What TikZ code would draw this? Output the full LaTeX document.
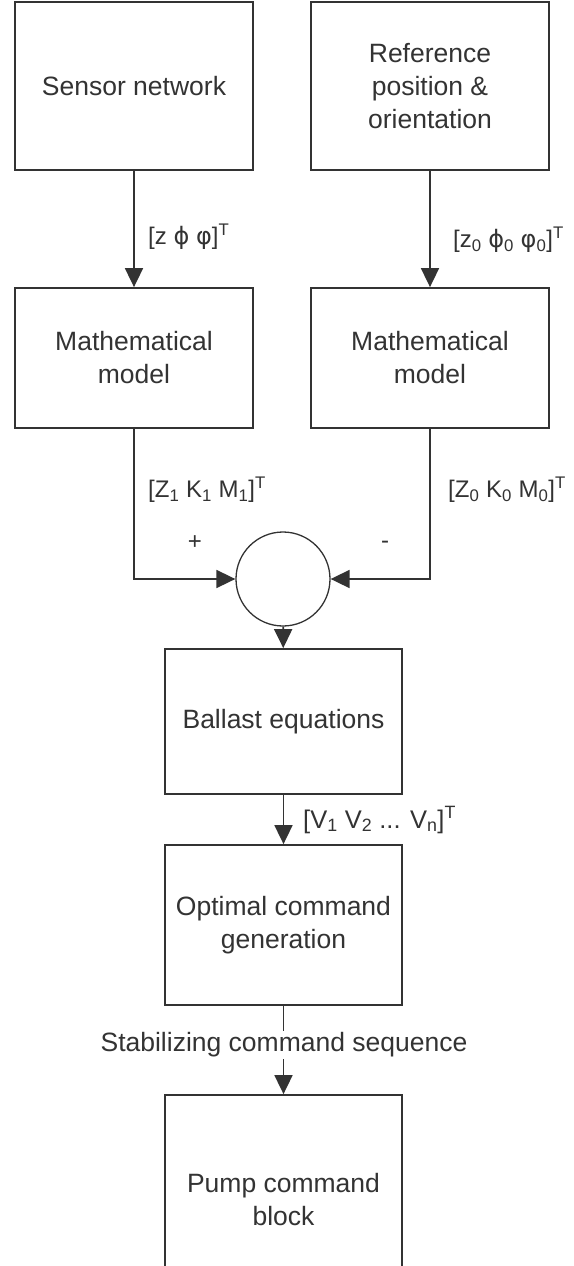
\documentclass[tikz,border=0pt]{standalone}
\usepackage{fontspec}
\setmainfont{Liberation Sans}
\newfontfamily\dv{DejaVu Sans}
\usetikzlibrary{arrows.meta}
\definecolor{ink}{HTML}{333333}
\begin{document}
\begin{tikzpicture}[x=1pt,y=-1pt,
  box/.style={draw=ink, line width=1.8pt, minimum width=238pt, text=ink,
    font=\fontsize{26.5}{33}\selectfont, align=center, inner sep=0pt},
  lbl/.style={text=ink, font=\fontsize{24}{30}\selectfont, inner sep=0pt},
  arr/.style={draw=ink, line width=1.8pt, -{Triangle[length=19pt,width=18pt]}}]
\useasboundingbox (0,0) rectangle (573,1266);
\clip (0,0) rectangle (573,1266);
\fill[white] (0,0) rectangle (573,1266);
\node[box, minimum height=168pt] (sn) at (134,86) {Sensor network};
\node[box, minimum height=168pt] (ref) at (430,86) {Reference\\position \&\\orientation};
\node[box, minimum height=140pt] (mm1) at (134,358) {Mathematical\\model};
\node[box, minimum height=140pt] (mm2) at (430,358) {Mathematical\\model};
\node[draw=ink, circle, line width=1.3pt, minimum size=94pt, inner sep=0pt] (sum) at (283,579) {};
\node[box, minimum width=237pt, minimum height=145pt] (be) at (283.5,721.5) {Ballast equations};
\node[box, minimum width=237pt, minimum height=160pt] (oc) at (283.5,925) {Optimal command\\generation};
\node[box, minimum width=237pt, minimum height=210pt] (pc) at (283.5,1200) {Pump command\\block};
\draw[arr] (sn) -- (mm1);
\draw[arr] (ref) -- (mm2);
\draw[arr] (mm1.south) |- (sum.west);
\draw[arr] (mm2.south) |- (sum.east);
\draw[arr] (sum) -- (be);
\draw[arr] (be) -- (oc);
\draw[arr] (oc) -- (pc);
\node[lbl, anchor=west] (l1) at (148,237) {[z {\dv ϕ} {\dv φ}]\textsuperscript{T}};
\node[lbl, anchor=west] (l2) at (453,240) {[z\textsubscript{0} {\dv ϕ}\textsubscript{0} {\dv φ}\textsubscript{0}]\textsuperscript{T}};
\node[lbl, anchor=west] (l3) at (148,490) {[Z\textsubscript{1} K\textsubscript{1} M\textsubscript{1}]\textsuperscript{T}};
\node[lbl, anchor=west] (l4) at (448,490) {[Z\textsubscript{0} K\textsubscript{0} M\textsubscript{0}]\textsuperscript{T}};
\node[lbl] (plus) at (195,543) {+};
\node[lbl] (minus) at (385,545) {-};
\node[lbl, anchor=west, font=\fontsize{25.5}{30}\selectfont] (l5) at (303,820) {[V\textsubscript{1} V\textsubscript{2} ... V\textsubscript{n}]\textsuperscript{T}};
\node[lbl, fill=white, inner sep=2pt, font=\fontsize{26.5}{30}\selectfont] (l6) at (284,1045) {Stabilizing command sequence};
\end{tikzpicture}
\end{document}
